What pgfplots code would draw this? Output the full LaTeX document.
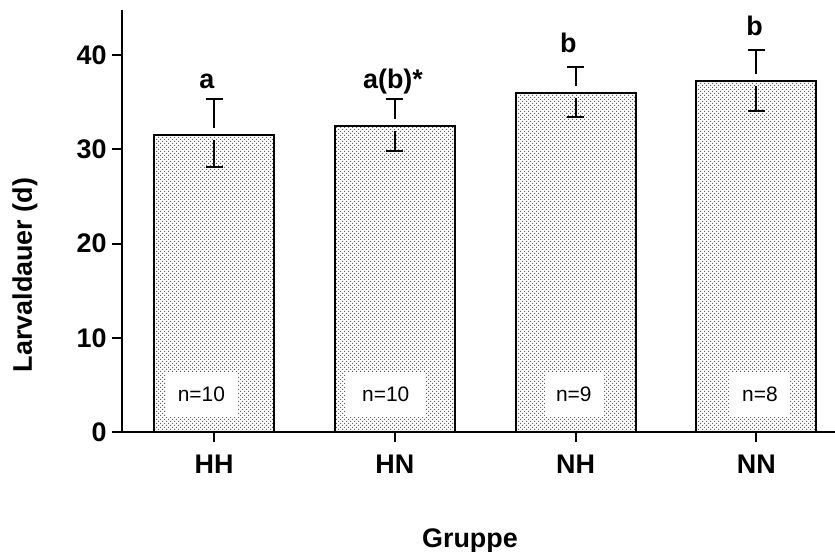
\documentclass[border=0pt]{standalone}
\usepackage{fontspec}
\setmainfont{Liberation Sans}
\usepackage{pgfplots}
\pgfplotsset{compat=1.18}
\usetikzlibrary{patterns}
\pgfdeclarepatternformonly{mydots}{\pgfqpoint{-1bp}{-1bp}}{\pgfqpoint{5bp}{5bp}}{\pgfqpoint{4bp}{4bp}}{%
  \pgfpathrectangle{\pgfqpoint{0bp}{0bp}}{\pgfqpoint{1.2bp}{1.2bp}}%
  \pgfpathrectangle{\pgfqpoint{2bp}{2bp}}{\pgfqpoint{1.2bp}{1.2bp}}%
  \pgfusepath{fill}}
\begin{document}
\begin{tikzpicture}
\useasboundingbox (-122bp,-120bp) rectangle (713bp,432bp);
\begin{axis}[
  at={(0,0)}, anchor=south west,
  scale only axis, width=713bp, height=422bp,
  xmin=-0.509, xmax=3.435, ymin=0, ymax=44.8,
  axis x line=bottom, axis y line=left,
  axis line style={line width=2bp, -, black},
  xtick={0,1,2,3}, xticklabels={HH,HN,NH,NN},
  ytick={0,10,20,30,40},
  tick align=outside, major tick length=10bp,
  tick style={line width=2bp, black},
  ticklabel style={font=\bfseries\fontsize{27}{30}\selectfont},
  yticklabel style={xshift=-2bp},
  xticklabel style={yshift=-9bp},
  /pgf/number format/assume math mode=true,
  xlabel={Gruppe}, ylabel={Larvaldauer (d)},
  xlabel style={font=\bfseries\fontsize{27}{30}\selectfont, at={(rel axis cs:0.488,0)}, anchor=base, yshift=-115bp},
  ylabel style={font=\bfseries\fontsize{27}{30}\selectfont, at={(rel axis cs:0,0.372)}, anchor=center, yshift=97bp},
  clip=false,
]
\addplot[ybar, bar width=120bp, draw=black, line width=2bp,
  pattern=mydots, pattern color=black!62]
  coordinates {(0,31.5) (1,32.46) (2,36.0) (3,37.27)};
% upper error bars
\addplot[draw=none, forget plot,
  error bars/.cd, y dir=plus, y explicit, error mark=|,
  error bar style={draw=black, line width=2bp},
  error mark options={draw=black, line width=2bp, mark size=8.5bp}]
  table[x=x, y=y, y error plus=e] {
x y e
0 32.25 3.15
1 33.21 2.09
2 36.75 2.01
3 38.02 2.51
};
% lower error bars
\addplot[draw=none, forget plot,
  error bars/.cd, y dir=minus, y explicit, error mark=|,
  error bar style={draw=black, line width=2bp},
  error mark options={draw=black, line width=2bp, mark size=8.5bp}]
  table[x=x, y=y, y error minus=e] {
x y e
0 30.95 2.81
1 31.91 2.11
2 35.45 2.06
3 36.72 2.63
};
\node[fill=white, inner xsep=12bp, minimum height=45bp, font=\fontsize{21}{24}\selectfont] at (axis cs:-0.07,3.95) {n=10};
\node[fill=white, inner xsep=16bp, minimum height=45bp, font=\fontsize{21}{24}\selectfont] at (axis cs:0.95,3.95) {n=10};
\node[fill=white, inner xsep=11bp, minimum height=45bp, font=\fontsize{21}{24}\selectfont] at (axis cs:1.99,3.95) {n=9};
\node[fill=white, inner xsep=12bp, minimum height=45bp, font=\fontsize{21}{24}\selectfont] at (axis cs:3.02,3.95) {n=8};
\node[anchor=base, font=\bfseries\fontsize{27}{30}\selectfont] at (axis cs:-0.04,36.5) {a};
\node[anchor=base, font=\bfseries\fontsize{27}{30}\selectfont] at (axis cs:0.99,36.5) {a(b)*};
\node[anchor=base, font=\bfseries\fontsize{27}{30}\selectfont] at (axis cs:1.96,40.3) {b};
\node[anchor=base, font=\bfseries\fontsize{27}{30}\selectfont] at (axis cs:2.99,42.1) {b};
\end{axis}
\end{tikzpicture}
\end{document}
